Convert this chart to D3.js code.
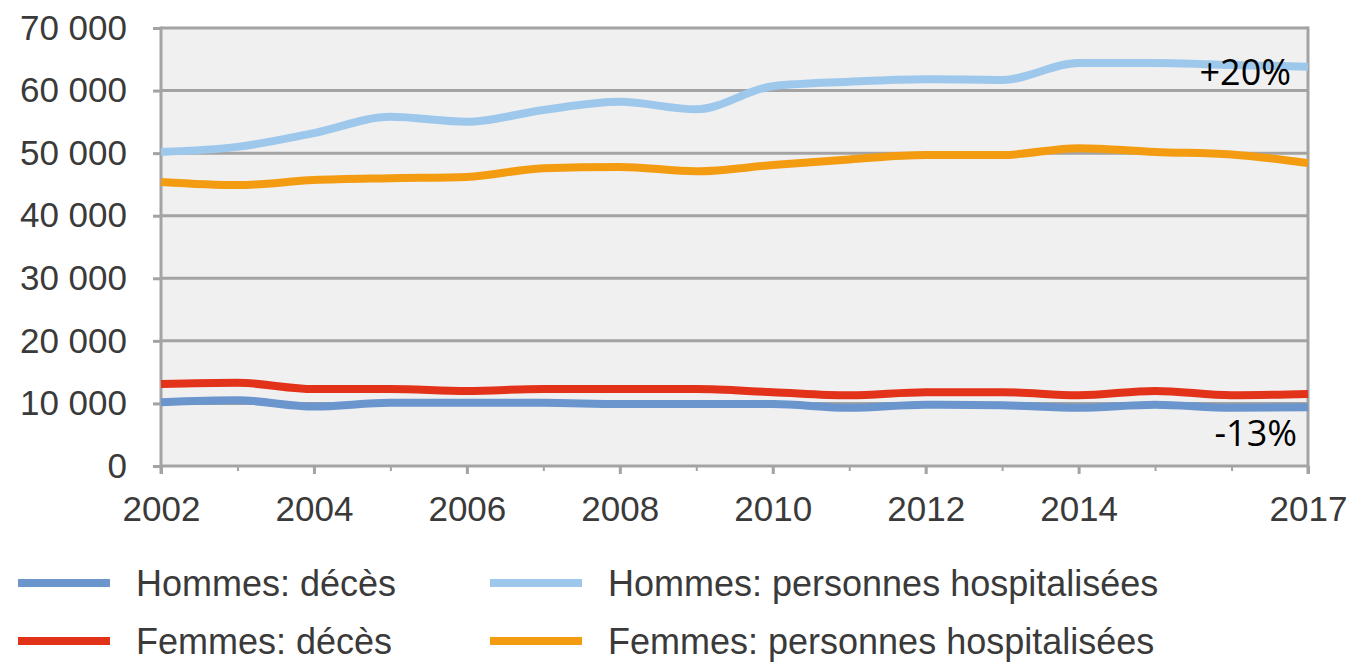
<!DOCTYPE html>
<html>
<head>
<meta charset="utf-8">
<script src="https://cdn.jsdelivr.net/npm/d3@7"></script>
<style>
  body { margin: 0; background: #fff; }
  svg { display: block; }
  .tick text { font-family: "Liberation Sans", Arial, sans-serif; fill: #3a3a3a; }
</style>
</head>
<body>
<script>
// données
var years = [2002,2003,2004,2005,2006,2007,2008,2009,2010,2011,2012,2013,2014,2015,2016,2017];
var hommesDeces = [10200,10500,9500,10100,10100,10100,9900,9900,9900,9300,9800,9700,9300,9800,9300,9400];
var femmesDeces = [13100,13300,12300,12300,12000,12300,12300,12300,11800,11300,11800,11800,11300,12000,11300,11500];
var hommesHosp = [50200,51000,53200,55800,55000,56900,58200,57000,60700,61400,61800,61700,64400,64400,64100,63800];
var femmesHosp = [45400,44900,45700,46000,46200,47600,47800,47100,48100,49000,49700,49700,50800,50200,49800,48400];
var xTickLabels = [2002,2004,2006,2008,2010,2012,2014,2017];
var yTicks = [0,10000,20000,30000,40000,50000,60000,70000];

var series = [
  {name: "Hommes: décès", values: hommesDeces, color: "#6a95cd"},
  {name: "Femmes: décès", values: femmesDeces, color: "#e3321a"},
  {name: "Hommes: personnes hospitalisées", values: hommesHosp, color: "#9dc8ec"},
  {name: "Femmes: personnes hospitalisées", values: femmesHosp, color: "#f39c12"}
];

var width = 1353, height = 664;
var plotL = 161, plotR = 1308, plotT = 28, plotB = 466; // "top" est réservé par window

var svg = d3.select("body").append("svg").attr("width", width).attr("height", height);

var x = d3.scaleLinear().domain([2002, 2017]).range([plotL, plotR]);
var y = d3.scaleLinear().domain([0, 70000]).range([plotB, plotT]);

var fr = d3.formatLocale({decimal: ",", thousands: " ", grouping: [3], currency: ["", " €"]});

// fond de la zone de tracé
svg.append("rect").attr("x", plotL).attr("y", plotT)
  .attr("width", plotR - plotL).attr("height", plotB - plotT).attr("fill", "#f0f0f0");

// grille horizontale
svg.append("g").selectAll("line").data(yTicks).enter().append("line")
  .attr("x1", plotL).attr("x2", plotR)
  .attr("y1", function(d){ return y(d); }).attr("y2", function(d){ return y(d); })
  .attr("stroke", "#a3a3a3").attr("stroke-width", 3);

// bord droit
svg.append("line").attr("x1", plotR).attr("x2", plotR).attr("y1", plotT - 1.5).attr("y2", plotB + 8)
  .attr("stroke", "#a3a3a3").attr("stroke-width", 3);

// axe y
var yAxis = d3.axisLeft(y).tickValues(yTicks).tickFormat(fr.format(",")).tickSize(8).tickPadding(26);
var gy = svg.append("g").attr("transform", "translate(" + plotL + ",0)").call(yAxis);
gy.select(".domain").remove();
gy.selectAll(".tick line").attr("stroke", "#a3a3a3").attr("stroke-width", 3);
gy.selectAll(".tick text").attr("font-size", 35);
svg.append("line").attr("x1", plotL).attr("x2", plotL).attr("y1", plotT - 1.5).attr("y2", plotB + 8)
  .attr("stroke", "#a3a3a3").attr("stroke-width", 3);

// axe x : petits traits chaque année, libellés sur certaines années
var xMinor = d3.axisBottom(x).tickValues(years).tickSize(5).tickFormat("");
var gxm = svg.append("g").attr("transform", "translate(0," + plotB + ")").call(xMinor);
gxm.select(".domain").remove();
gxm.selectAll(".tick line").attr("stroke", "#a3a3a3").attr("stroke-width", 2);

var xAxis = d3.axisBottom(x).tickValues(xTickLabels).tickFormat(d3.format("d")).tickSize(8).tickPadding(22);
var gx = svg.append("g").attr("transform", "translate(0," + plotB + ")").call(xAxis);
gx.select(".domain").remove();
gx.selectAll(".tick line").attr("stroke", "#a3a3a3").attr("stroke-width", 3);
gx.selectAll(".tick text").attr("font-size", 35);

// courbes
var line = d3.line()
  .x(function(d, i){ return x(years[i]); })
  .y(function(d){ return y(d); })
  .curve(d3.curveMonotoneX);

svg.append("g").selectAll("path").data(series).enter().append("path")
  .attr("fill", "none")
  .attr("stroke", function(d){ return d.color; })
  .attr("stroke-width", 8)
  .attr("stroke-linejoin", "round")
  .attr("d", function(d){ return line(d.values); });

// annotations
svg.append("text").attr("x", 1291).attr("y", 85).attr("text-anchor", "end")
  .attr("font-family", "'Open Sans', 'Noto Sans', sans-serif").attr("font-size", 36).attr("fill", "#000")
  .text("+20%");
svg.append("text").attr("x", 1297).attr("y", 446).attr("text-anchor", "end")
  .attr("font-family", "'Open Sans', 'Noto Sans', sans-serif").attr("font-size", 36).attr("fill", "#000")
  .text("-13%");

// légende
var legendPos = [[18, 583], [18, 641], [490, 583], [490, 641]];
var lg = svg.append("g").selectAll("g").data(series).enter().append("g")
  .attr("transform", function(d, i){ return "translate(" + legendPos[i][0] + "," + legendPos[i][1] + ")"; });
lg.append("line").attr("x1", 0).attr("x2", 92).attr("y1", 0).attr("y2", 0)
  .attr("stroke", function(d){ return d.color; }).attr("stroke-width", 8);
lg.append("text").attr("x", 118).attr("y", 13)
  .attr("font-family", "'Liberation Sans', Arial, sans-serif").attr("font-size", 36).attr("fill", "#3a3a3a")
  .text(function(d){ return d.name; });
</script>
</body>
</html>
